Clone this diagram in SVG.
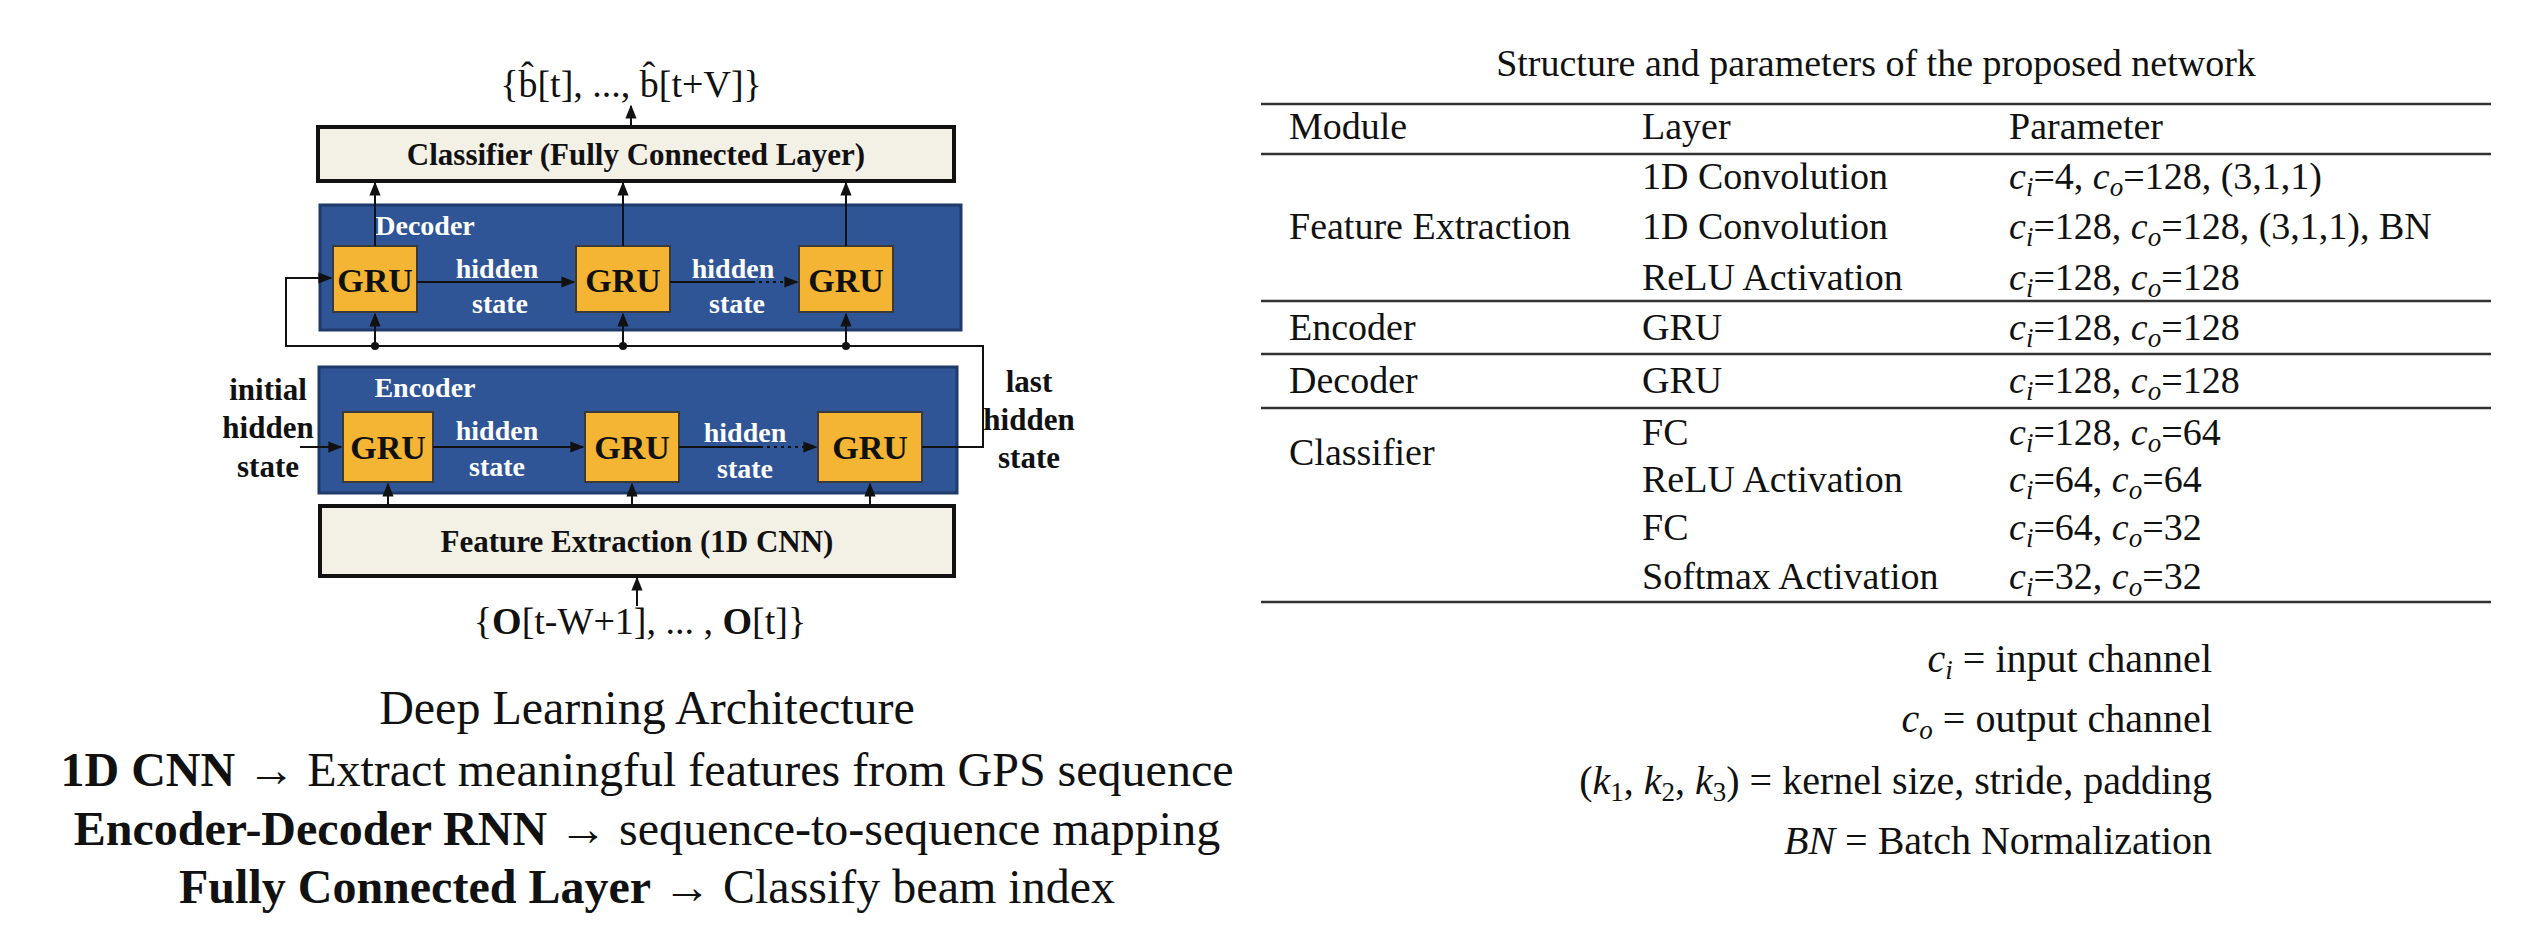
<svg xmlns="http://www.w3.org/2000/svg" width="2536" height="944" viewBox="0 0 2536 944">
<style>
text{font-family:"Liberation Serif",serif;fill:#111}
.b{font-weight:bold}
.lbl{font-weight:bold;font-size:31px;text-anchor:middle}
.wl{font-weight:bold;font-size:28px;fill:#fff;text-anchor:middle}
.blue{fill:#2f5597;stroke:#1f3a68;stroke-width:3}
.gru{fill:#f4b434;stroke:#3a3a3a;stroke-width:2}
.beige{fill:#f3f0e6;stroke:#111;stroke-width:4}
.gt{font-weight:bold;font-size:34px;text-anchor:middle;fill:#111}
.ln{stroke:#111;stroke-width:2;fill:none}
.t{font-size:38px}
.s{font-size:27px}
.hr{stroke:#333;stroke-width:2.5}
.cap{font-size:48px;text-anchor:middle}
.leg{font-size:40px;text-anchor:end}
</style>
<defs>
<marker id="ar" viewBox="0 0 10 10" refX="9" refY="5" markerWidth="7" markerHeight="7" orient="auto"><path d="M0,1 L10,5 L0,9 z" fill="#111"/></marker>
</defs>
<g id="output"><text x="631" y="97" font-size="38" text-anchor="middle">{b̂[t], ..., b̂[t+V]}</text></g>
<g id="classifier"><rect class="beige" x="318" y="127" width="636" height="54"/><text class="lbl" x="636" y="165">Classifier (Fully Connected Layer)</text></g>
<g id="decoder"><rect class="blue" x="320" y="205" width="641" height="125"/><text class="wl" x="425" y="235">Decoder</text></g>
<g id="dgru1"><rect class="gru" x="333" y="246" width="84" height="66"/><text class="gt" x="375" y="292">GRU</text></g>
<g id="dgru2"><rect class="gru" x="576" y="246" width="94" height="66"/><text class="gt" x="623" y="292">GRU</text></g>
<g id="dgru3"><rect class="gru" x="799" y="246" width="94" height="66"/><text class="gt" x="846" y="292">GRU</text></g>
<g id="encoder"><rect class="blue" x="319" y="367" width="638" height="126"/><text class="wl" x="425" y="397">Encoder</text></g>
<g id="egru1"><rect class="gru" x="343" y="412" width="90" height="70"/><text class="gt" x="388" y="459">GRU</text></g>
<g id="egru2"><rect class="gru" x="585" y="412" width="94" height="70"/><text class="gt" x="632" y="459">GRU</text></g>
<g id="egru3"><rect class="gru" x="818" y="412" width="104" height="70"/><text class="gt" x="870" y="459">GRU</text></g>
<g id="feature"><rect class="beige" x="320" y="506" width="634" height="70"/><text class="lbl" x="637" y="552">Feature Extraction (1D CNN)</text></g>
<g id="input"><text x="640" y="634" font-size="38" text-anchor="middle">{<tspan class="b">O</tspan>[t-W+1], ... , <tspan class="b">O</tspan>[t]}</text></g>
<g id="labels">
<text class="lbl" x="268" y="400">initial</text><text class="lbl" x="268" y="438">hidden</text><text class="lbl" x="268" y="477">state</text>
<text class="lbl" x="1029" y="392">last</text><text class="lbl" x="1029" y="430">hidden</text><text class="lbl" x="1029" y="468">state</text>
<text class="wl" x="497" y="278">hidden</text><text class="wl" x="500" y="313">state</text>
<text class="wl" x="733" y="278">hidden</text><text class="wl" x="737" y="313">state</text>
<text class="wl" x="497" y="440">hidden</text><text class="wl" x="497" y="476">state</text>
<text class="wl" x="745" y="442">hidden</text><text class="wl" x="745" y="478">state</text>
</g>
<g id="connectors">
<line class="ln" x1="631" y1="127" x2="631" y2="106" marker-end="url(#ar)"/>
<line class="ln" x1="375" y1="246" x2="375" y2="183" marker-end="url(#ar)"/>
<line class="ln" x1="623" y1="246" x2="623" y2="183" marker-end="url(#ar)"/>
<line class="ln" x1="846" y1="246" x2="846" y2="183" marker-end="url(#ar)"/>
<line class="ln" x1="417" y1="282" x2="574" y2="282" marker-end="url(#ar)"/>
<line class="ln" x1="670" y1="282" x2="752" y2="282"/>
<line class="ln" x1="752" y1="282" x2="797" y2="282" stroke-dasharray="3,4" marker-end="url(#ar)"/>
<polyline class="ln" points="922,447 983,447 983,346 286,346 286,278 331,278" marker-end="url(#ar)"/>
<line class="ln" x1="375" y1="346" x2="375" y2="314" marker-end="url(#ar)"/>
<line class="ln" x1="623" y1="346" x2="623" y2="314" marker-end="url(#ar)"/>
<line class="ln" x1="846" y1="346" x2="846" y2="314" marker-end="url(#ar)"/>
<circle cx="375" cy="346" r="4" fill="#111"/><circle cx="623" cy="346" r="4" fill="#111"/><circle cx="846" cy="346" r="4" fill="#111"/>
<line class="ln" x1="300" y1="447" x2="341" y2="447" marker-end="url(#ar)"/>
<line class="ln" x1="433" y1="447" x2="583" y2="447" marker-end="url(#ar)"/>
<line class="ln" x1="679" y1="447" x2="760" y2="447"/>
<line class="ln" x1="760" y1="447" x2="816" y2="447" stroke-dasharray="3,4" marker-end="url(#ar)"/>
<line class="ln" x1="388" y1="506" x2="388" y2="484" marker-end="url(#ar)"/>
<line class="ln" x1="632" y1="506" x2="632" y2="484" marker-end="url(#ar)"/>
<line class="ln" x1="870" y1="506" x2="870" y2="484" marker-end="url(#ar)"/>
<line class="ln" x1="637" y1="606" x2="637" y2="578" marker-end="url(#ar)"/>
</g>
<g id="captions">
<text class="cap" x="647" y="724">Deep Learning Architecture</text>
<text class="cap" x="647" y="786"><tspan class="b">1D CNN</tspan> → Extract meaningful features from GPS sequence</text>
<text class="cap" x="647" y="845"><tspan class="b">Encoder-Decoder RNN</tspan> → sequence-to-sequence mapping</text>
<text class="cap" x="647" y="903"><tspan class="b">Fully Connected Layer</tspan> → Classify beam index</text>
</g>
<g id="table">
<text x="1876" y="76" font-size="38" text-anchor="middle">Structure and parameters of the proposed network</text>
<line class="hr" x1="1261" y1="104" x2="2491" y2="104"/>
<line class="hr" x1="1261" y1="154" x2="2491" y2="154"/>
<line class="hr" x1="1261" y1="301" x2="2491" y2="301"/>
<line class="hr" x1="1261" y1="354" x2="2491" y2="354"/>
<line class="hr" x1="1261" y1="408" x2="2491" y2="408"/>
<line class="hr" x1="1261" y1="602" x2="2491" y2="602"/>
<text class="t" x="1289" y="139">Module</text><text class="t" x="1642" y="139">Layer</text><text class="t" x="2009" y="139">Parameter</text>
<text class="t" x="1289" y="239">Feature Extraction</text>
<text class="t" x="1642" y="189">1D Convolution</text><text class="t" x="2009" y="189"><tspan font-style="italic">c<tspan class="s" dy="7">i</tspan></tspan><tspan dy="-7">=4, </tspan><tspan font-style="italic">c<tspan class="s" dy="7">o</tspan></tspan><tspan dy="-7">=128, (3,1,1)</tspan></text>
<text class="t" x="1642" y="239">1D Convolution</text><text class="t" x="2009" y="239"><tspan font-style="italic">c<tspan class="s" dy="7">i</tspan></tspan><tspan dy="-7">=128, </tspan><tspan font-style="italic">c<tspan class="s" dy="7">o</tspan></tspan><tspan dy="-7">=128, (3,1,1), BN</tspan></text>
<text class="t" x="1642" y="290">ReLU Activation</text><text class="t" x="2009" y="290"><tspan font-style="italic">c<tspan class="s" dy="7">i</tspan></tspan><tspan dy="-7">=128, </tspan><tspan font-style="italic">c<tspan class="s" dy="7">o</tspan></tspan><tspan dy="-7">=128</tspan></text>
<text class="t" x="1289" y="340">Encoder</text><text class="t" x="1642" y="340">GRU</text><text class="t" x="2009" y="340"><tspan font-style="italic">c<tspan class="s" dy="7">i</tspan></tspan><tspan dy="-7">=128, </tspan><tspan font-style="italic">c<tspan class="s" dy="7">o</tspan></tspan><tspan dy="-7">=128</tspan></text>
<text class="t" x="1289" y="393">Decoder</text><text class="t" x="1642" y="393">GRU</text><text class="t" x="2009" y="393"><tspan font-style="italic">c<tspan class="s" dy="7">i</tspan></tspan><tspan dy="-7">=128, </tspan><tspan font-style="italic">c<tspan class="s" dy="7">o</tspan></tspan><tspan dy="-7">=128</tspan></text>
<text class="t" x="1289" y="465">Classifier</text>
<text class="t" x="1642" y="445">FC</text><text class="t" x="2009" y="445"><tspan font-style="italic">c<tspan class="s" dy="7">i</tspan></tspan><tspan dy="-7">=128, </tspan><tspan font-style="italic">c<tspan class="s" dy="7">o</tspan></tspan><tspan dy="-7">=64</tspan></text>
<text class="t" x="1642" y="492">ReLU Activation</text><text class="t" x="2009" y="492"><tspan font-style="italic">c<tspan class="s" dy="7">i</tspan></tspan><tspan dy="-7">=64, </tspan><tspan font-style="italic">c<tspan class="s" dy="7">o</tspan></tspan><tspan dy="-7">=64</tspan></text>
<text class="t" x="1642" y="540">FC</text><text class="t" x="2009" y="540"><tspan font-style="italic">c<tspan class="s" dy="7">i</tspan></tspan><tspan dy="-7">=64, </tspan><tspan font-style="italic">c<tspan class="s" dy="7">o</tspan></tspan><tspan dy="-7">=32</tspan></text>
<text class="t" x="1642" y="589">Softmax Activation</text><text class="t" x="2009" y="589"><tspan font-style="italic">c<tspan class="s" dy="7">i</tspan></tspan><tspan dy="-7">=32, </tspan><tspan font-style="italic">c<tspan class="s" dy="7">o</tspan></tspan><tspan dy="-7">=32</tspan></text>
</g>
<g id="legend">
<text class="leg" x="2212" y="672"><tspan font-style="italic">c<tspan class="s" dy="7">i</tspan></tspan><tspan dy="-7"> = input channel</tspan></text>
<text class="leg" x="2212" y="732"><tspan font-style="italic">c<tspan class="s" dy="7">o</tspan></tspan><tspan dy="-7"> = output channel</tspan></text>
<text class="leg" x="2212" y="794">(<tspan font-style="italic">k</tspan><tspan class="s" dy="7">1</tspan><tspan dy="-7">, </tspan><tspan font-style="italic">k</tspan><tspan class="s" dy="7">2</tspan><tspan dy="-7">, </tspan><tspan font-style="italic">k</tspan><tspan class="s" dy="7">3</tspan><tspan dy="-7">) = kernel size, stride, padding</tspan></text>
<text class="leg" x="2212" y="854"><tspan font-style="italic">BN</tspan> = Batch Normalization</text>
</g>
</svg>
